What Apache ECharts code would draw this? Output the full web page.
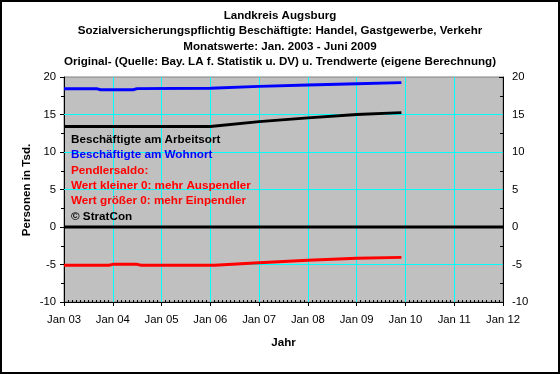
<!DOCTYPE html>
<html>
<head>
<meta charset="utf-8">
<script src="https://cdn.jsdelivr.net/npm/echarts@6/dist/echarts.min.js"></script>
<style>
html,body{margin:0;padding:0;background:#fff;}
#chart{width:560px;height:374px;}
</style>
</head>
<body>
<div id="chart"></div>
<script>
// Data (months "YYYY-MM", values in thousands)
const arbeitsortDates  = ['2003-01','2006-01','2007-01','2008-01','2009-01','2009-12'];
const arbeitsortValues = [13.4, 13.4, 14.05, 14.55, 15.0, 15.25];

const wohnortDates  = ['2003-01','2003-09','2003-10','2004-06','2004-07','2006-01','2007-01','2008-01','2009-01','2009-12'];
const wohnortValues = [18.45, 18.45, 18.3, 18.3, 18.45, 18.5, 18.75, 18.93, 19.1, 19.25];

const saldoDates  = ['2003-01','2003-12','2004-01','2004-07','2004-08','2006-02','2007-01','2008-01','2009-01','2009-12'];
const saldoValues = [-5.1, -5.1, -4.98, -4.98, -5.1, -5.1, -4.76, -4.42, -4.18, -4.05];

const xTickLabels = ['Jan 03','Jan 04','Jan 05','Jan 06','Jan 07','Jan 08','Jan 09','Jan 10','Jan 11','Jan 12'];
const yTicks = [-10, -5, 0, 5, 10, 15, 20];

const titleLines = [
  'Landkreis Augsburg',
  'Sozialversicherungspflichtig Beschäftigte: Handel, Gastgewerbe, Verkehr',
  'Monatswerte: Jan. 2003 - Juni 2009',
  'Original- (Quelle: Bay. LA f. Statistik u. DV) u. Trendwerte (eigene Berechnung)'
];
const yAxisTitle = 'Personen in Tsd.';
const noteLines = [
  ['Beschäftigte am Arbeitsort', '#000000'],
  ['Beschäftigte am Wohnort', '#0000ff'],
  ['Pendlersaldo:', '#ff0000'],
  ['Wert kleiner 0: mehr Auspendler', '#ff0000'],
  ['Wert größer 0: mehr Einpendler', '#ff0000'],
  ['© StratCon', '#000000']
];

function monthIndex(s) {
  const [y, m] = s.split('-').map(Number);
  return (y - 2003) * 12 + (m - 1);
}
function pairs(dates, vals) { return dates.map((d, i) => [monthIndex(d), vals[i]]); }

const FONT = '"Liberation Sans", Arial, sans-serif';
const chart = echarts.init(document.getElementById('chart'), null, {renderer: 'canvas'});

const titleY = [15.5, 31, 46.5, 62];
const noteY = [140, 155, 170.5, 185.5, 200.5, 217];
const graphics = [
  {type: 'rect', shape: {x: 1, y: 1, width: 558, height: 372}, style: {fill: 'none', stroke: '#000', lineWidth: 2}, z: 100},
  {type: 'text', x: 27, y: 190, rotation: Math.PI / 2,
   style: {text: yAxisTitle, font: 'bold 11.6px ' + FONT, fill: '#000', textAlign: 'center', textVerticalAlign: 'middle'}}
];
titleLines.forEach((t, i) => graphics.push({
  type: 'text', x: 280, y: titleY[i],
  style: {text: t, font: 'bold 11.6px ' + FONT, fill: '#000', textAlign: 'center', textVerticalAlign: 'middle'}
}));
noteLines.forEach((t, i) => graphics.push({
  type: 'text', x: 71, y: noteY[i], z: 50,
  style: {text: t[0], font: 'bold 11.7px ' + FONT, fill: t[1], textAlign: 'left', textVerticalAlign: 'middle'}
}));

const gridLineVals = yTicks.filter(v => v !== 0 && v !== -10 && v !== 20);

const option = {
  animation: false,
  backgroundColor: '#ffffff',
  graphic: graphics,
  grid: {left: 64, right: 57, top: 77, bottom: 72, show: true, backgroundColor: '#c0c0c0', borderColor: '#808080', borderWidth: 1},
  xAxis: [
    {
      type: 'value', min: 0, max: 108, interval: 12, position: 'bottom',
      axisLine: {show: true, onZero: false, lineStyle: {color: '#000', width: 1}},
      axisTick: {show: true, length: 4, lineStyle: {color: '#000'}},
      minorTick: {show: false},
      axisLabel: {margin: 12, fontSize: 11.3, fontFamily: FONT, color: '#000',
        formatter: v => xTickLabels[Math.round(v / 12)]},
      splitLine: {show: true, lineStyle: {color: '#00ffff', width: 1}},
      name: 'Jahr', nameLocation: 'middle', nameGap: 35,
      nameTextStyle: {fontSize: 11.6, fontWeight: 'bold', fontFamily: FONT, color: '#000'}
    },
    {
      type: 'value', min: 0, max: 108, interval: 12, position: 'bottom',
      axisLine: {show: false, onZero: false},
      axisTick: {show: false, inside: true},
      minorTick: {show: true, splitNumber: 12, length: 2, lineStyle: {color: '#000', width: 1}},
      axisLabel: {show: false}, splitLine: {show: false}
    }
  ],
  yAxis: [
    {
      type: 'value', min: -10, max: 20, interval: 5, position: 'left',
      axisLine: {show: true, onZero: false, lineStyle: {color: '#000', width: 1}},
      axisTick: {show: true, length: 4, lineStyle: {color: '#000'}},
      minorTick: {show: true, splitNumber: 2, length: 3, lineStyle: {color: '#000'}},
      axisLabel: {margin: 8, fontSize: 11.3, fontFamily: FONT, color: '#000'},
      splitLine: {show: false}
    },
    {
      type: 'value', min: -10, max: 20, interval: 5, position: 'right',
      axisLine: {show: true, onZero: false, lineStyle: {color: '#000', width: 1}},
      axisTick: {show: true, inside: true, length: 4, lineStyle: {color: '#000'}},
      minorTick: {show: true, splitNumber: 2, length: 3, lineStyle: {color: '#000'}},
      axisLabel: {margin: 9, fontSize: 11.3, fontFamily: FONT, color: '#000'},
      splitLine: {show: false}
    }
  ],
  series: [
    {
      type: 'line', name: 'grid', data: [[0, -10]], showSymbol: false, symbol: 'none', z: 1, silent: true,
      lineStyle: {opacity: 0},
      markLine: {silent: true, z: 1, symbol: ['none', 'none'], label: {show: false},
        lineStyle: {color: '#00ffff', width: 1, type: 'solid'},
        data: gridLineVals.map(v => ({yAxis: v}))}
    },
    {
      type: 'line', name: 'zero', data: [[0, 0], [108, 0]], symbol: 'none', z: 2, silent: true,
      lineStyle: {color: '#000', width: 3}
    },
    {
      type: 'line', name: 'Beschäftigte am Arbeitsort', data: pairs(arbeitsortDates, arbeitsortValues),
      symbol: 'none', z: 3, lineStyle: {color: '#000000', width: 3}
    },
    {
      type: 'line', name: 'Beschäftigte am Wohnort', data: pairs(wohnortDates, wohnortValues),
      symbol: 'none', z: 3, lineStyle: {color: '#0000ff', width: 3}
    },
    {
      type: 'line', name: 'Pendlersaldo', data: pairs(saldoDates, saldoValues),
      symbol: 'none', z: 3, lineStyle: {color: '#ff0000', width: 3}
    }
  ]
};
chart.setOption(option);
</script>
</body>
</html>
